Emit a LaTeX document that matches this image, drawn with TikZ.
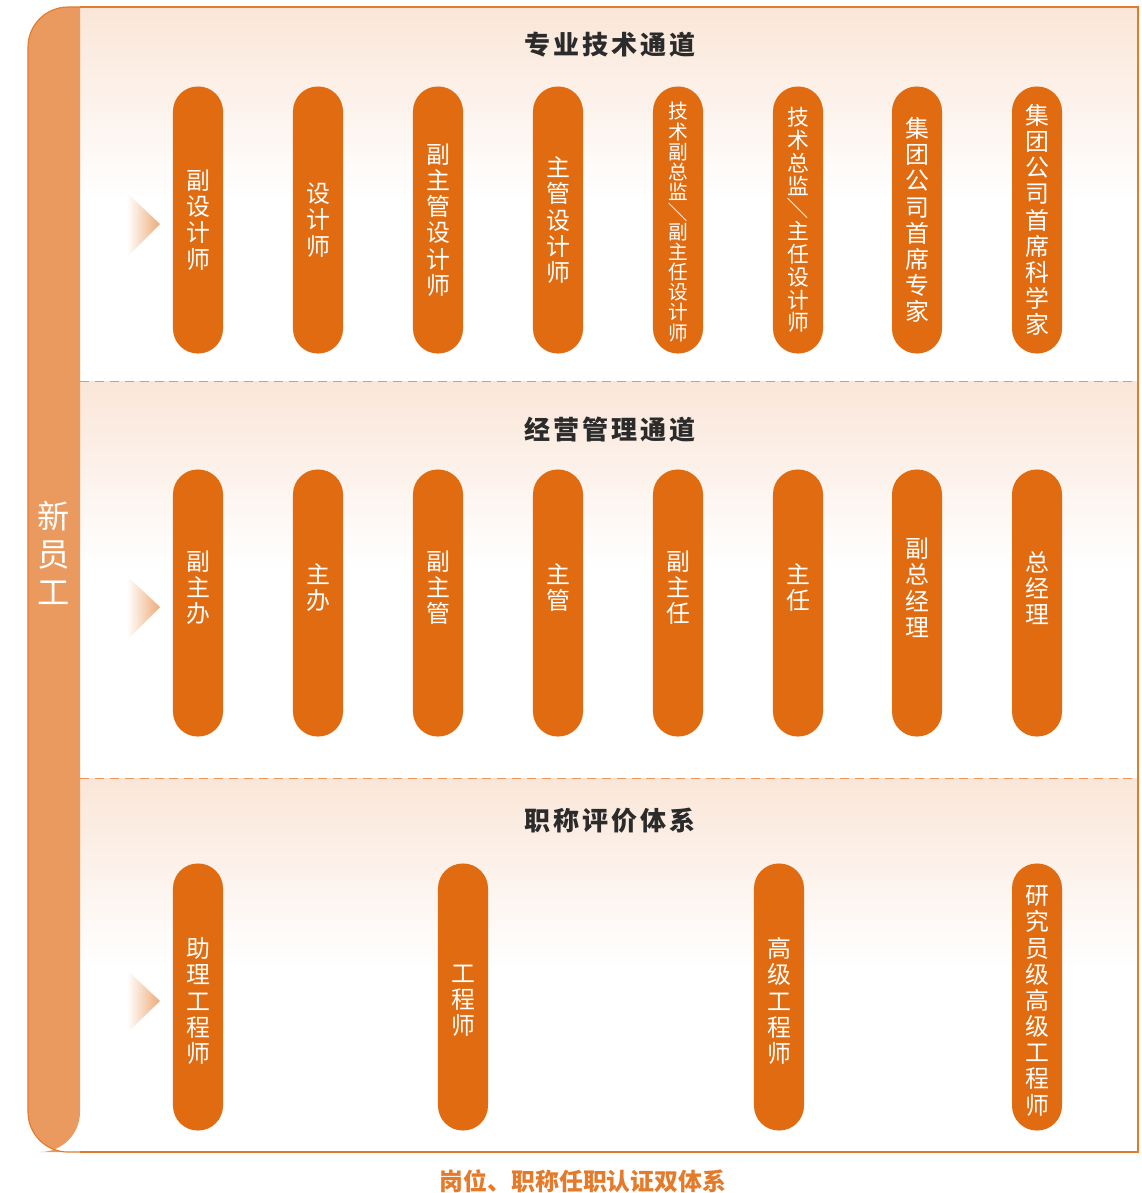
\documentclass[tikz,border=0pt]{standalone}
\usepackage{fontspec}
\setmainfont{Noto Sans CJK SC}
\usepackage{tikz}
\usetikzlibrary{positioning,calc}

\definecolor{pillorange}{HTML}{E06B10}
\definecolor{barorange}{HTML}{EA9A5E}
\definecolor{frameorange}{HTML}{E37B2B}
\definecolor{peach}{HTML}{FAE6D8}
\definecolor{dashorange}{HTML}{EC9658}
\definecolor{titlegray}{HTML}{2B2B2B}

\begin{document}
\begin{tikzpicture}[
    x=0.025cm, y=-0.025cm,
    pill/.style={rectangle, fill=pillorange, minimum width=1.25cm, minimum height=6.675cm, rounded corners=0.62cm, inner sep=0pt},
    pilltext/.style={text=white, align=center, font=\fontsize{17}{18.6}\selectfont, inner sep=0pt},
    smalltext/.style={text=white, align=center, font=\fontsize{14}{14.3}\selectfont, inner sep=0pt},
    midtext/.style={text=white, align=center, font=\fontsize{15.5}{16.2}\selectfont, inner sep=0pt},
    title/.style={text=titlegray, font=\fontsize{18.5}{20}\selectfont\bfseries},
    tri/.style={left color=white, right color=barorange!85},
    divider/.style={dashorange, line width=0.7pt, dash pattern=on 6.4pt off 4.2pt}
]
    \useasboundingbox (0,0) rectangle (1142,1193);

    % section backgrounds
    \shade[top color=peach, bottom color=white] (80,8) rectangle (1138,200);
    \shade[top color=peach, bottom color=white] (80,381) rectangle (1138,570);
    \shade[top color=peach, bottom color=white] (80,778) rectangle (1138,968);

    % left bar and frame
    \fill[barorange] (80,7) [rounded corners=1cm] -- (28,7) -- (28,1152) -- (80,1152) [sharp corners] -- cycle;
    \draw[frameorange, line width=0.8pt] (80,7) [rounded corners=1cm] -- (28,7) -- (28,1152) -- (80,1152);
    \draw[frameorange, line width=0.8pt] (80,7) -- (1138,7) -- (1138,1152) -- (80,1152);
    \draw[divider] (80,381) -- (1138,381);
    \draw[divider] (80,778) -- (1138,778);

    \node[text=white, align=center, font=\fontsize{23}{27}\selectfont] (newstaff) at (54,553) {新\\员\\工};

    % titles
    \node[title] (techtitle) at (610,45) {专\hspace{2pt}业\hspace{2pt}技\hspace{2pt}术\hspace{2pt}通\hspace{2pt}道};
    \node[title] (mgmttitle) at (610,430) {经\hspace{2pt}营\hspace{2pt}管\hspace{2pt}理\hspace{2pt}通\hspace{2pt}道};
    \node[title] (ranktitle) at (610,821) {职\hspace{2pt}称\hspace{2pt}评\hspace{2pt}价\hspace{2pt}体\hspace{2pt}系};

    % arrows into each row
    \shade[tri] (127,193) -- (160,224) -- (127,257) -- cycle;
    \shade[tri] (127,576) -- (160,607) -- (127,640) -- cycle;
    \shade[tri] (127,970) -- (160,1001) -- (127,1033) -- cycle;

    % technical channel
    \node[pill] (t1) at (198,220) {};
    \node[pill] (t2) at (318,220) {};
    \node[pill] (t3) at (438,220) {};
    \node[pill] (t4) at (558,220) {};
    \node[pill] (t5) at (678,220) {};
    \node[pill] (t6) at (798,220) {};
    \node[pill] (t7) at (917,220) {};
    \node[pill] (t8) at (1037,220) {};
    \node[pilltext] at (t1) {副\\设\\计\\师};
    \node[pilltext] at (t2) {设\\计\\师};
    \node[pilltext] at (t3) {副\\主\\管\\设\\计\\师};
    \node[pilltext] at (t4) {主\\管\\设\\计\\师};
    \node[smalltext] at ([yshift=-0.05cm]t5) {技\\术\\副\\总\\监\\\rotatebox[origin=c]{-90}{／}\\副\\主\\任\\设\\计\\师};
    \node[midtext] at (t6) {技\\术\\总\\监\\\rotatebox[origin=c]{-90}{／}\\主\\任\\设\\计\\师};
    \node[pilltext] at (t7) {集\\团\\公\\司\\首\\席\\专\\家};
    \node[pilltext] at (t8) {集\\团\\公\\司\\首\\席\\科\\学\\家};

    % management channel
    \node[pill] (m1) at (198,603) {};
    \node[pill] (m2) at (318,603) {};
    \node[pill] (m3) at (438,603) {};
    \node[pill] (m4) at (558,603) {};
    \node[pill] (m5) at (678,603) {};
    \node[pill] (m6) at (798,603) {};
    \node[pill] (m7) at (917,603) {};
    \node[pill] (m8) at (1037,603) {};
    \node[pilltext] at ([yshift=0.38cm]m1) {副\\主\\办};
    \node[pilltext] at ([yshift=0.38cm]m2) {主\\办};
    \node[pilltext] at ([yshift=0.38cm]m3) {副\\主\\管};
    \node[pilltext] at ([yshift=0.38cm]m4) {主\\管};
    \node[pilltext] at ([yshift=0.38cm]m5) {副\\主\\任};
    \node[pilltext] at ([yshift=0.38cm]m6) {主\\任};
    \node[pilltext] at ([yshift=0.38cm]m7) {副\\总\\经\\理};
    \node[pilltext] at ([yshift=0.38cm]m8) {总\\经\\理};

    % title evaluation
    \node[pill] (r1) at (198,997) {};
    \node[pill] (r2) at (463,997) {};
    \node[pill] (r3) at (779,997) {};
    \node[pill] (r4) at (1037,997) {};
    \node[pilltext] at ([yshift=-0.1cm]r1) {助\\理\\工\\程\\师};
    \node[pilltext] at ([yshift=-0.1cm]r2) {工\\程\\师};
    \node[pilltext] at ([yshift=-0.1cm]r3) {高\\级\\工\\程\\师};
    \node[pilltext] at ([yshift=-0.1cm]r4) {研\\究\\员\\级\\高\\级\\工\\程\\师};

    \node[text=frameorange, font=\fontsize{17}{20}\selectfont\bfseries] (caption) at (583,1181) {岗位、职称任职认证双体系};
\end{tikzpicture}
\end{document}
